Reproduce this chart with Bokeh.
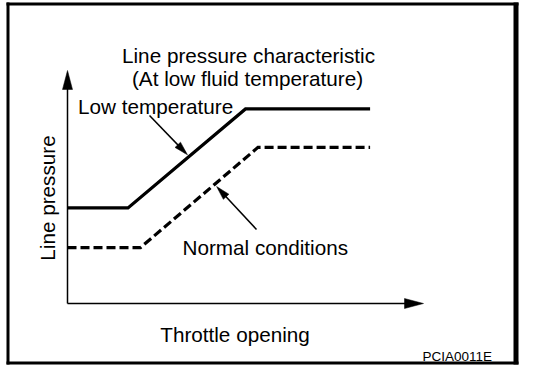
import math
import numpy as np
from bokeh.plotting import figure
from bokeh.models import Range1d, Label
from bokeh.embed import file_html
from bokeh.resources import INLINE

# ---------------- data ----------------
throttle_low = [0, 17, 50, 85]          # "Low temperature" curve
pressure_low = [41, 41, 83.5, 83.5]
throttle_normal = [0, 20.5, 53.5, 85]   # "Normal conditions" curve
pressure_normal = [24, 24, 67, 67]
axis_max = 100

title_lines = ["Line pressure characteristic", "(At low fluid temperature)"]
label_low = "Low temperature"
label_normal = "Normal conditions"
x_label = "Throttle opening"
y_label = "Line pressure"
code_label = "PCIA0011E"
pointer_low_at = 33.7      # throttle value where the "Low temperature" pointer touches
pointer_normal_at = 41.6   # throttle value where the "Normal conditions" pointer touches

# ---------------- layout ----------------
W, H = 536, 366
OX, OY = 67, 303     # axis origin in canvas pixels (from top-left)
TX, TY = 423, 70     # axis arrow tips
SX = (TX - OX) / axis_max
SY = (OY - TY) / axis_max
FONT = "Liberation Sans"
FS = "20.7px"


def fx(px):
    return (px - OX) / SX


def fy(py):
    return (OY - py) / SY


def cx(v):
    return OX + v * SX


def cy(v):
    return OY - v * SY


p = figure(width=W, height=H,
           x_range=Range1d(fx(0), fx(W)), y_range=Range1d(fy(H), fy(0)),
           output_backend="svg", toolbar_location=None,
           x_axis_location=None, y_axis_location=None, min_border=0)
p.outline_line_color = None
p.grid.visible = False
p.background_fill_color = "white"
p.border_fill_color = "white"


def head(tip, frm, length, half):
    tx, ty = tip
    dx, dy = tx - frm[0], ty - frm[1]
    n = math.hypot(dx, dy)
    ux, uy = dx / n, dy / n
    bx, by = tx - ux * length, ty - uy * length
    nx, ny = -uy, ux
    pts = [(tx, ty), (bx + nx * half, by + ny * half), (bx - nx * half, by - ny * half)]
    return [fx(a) for a, _ in pts], [fy(b) for _, b in pts]


# outer frame (decorative border, thicker on the right)
bars = [(6, 518, 2, 5), (6, 9, 2, 364), (513, 518, 2, 364), (6, 518, 361, 364)]
p.quad(left=[fx(b[0]) for b in bars], right=[fx(b[1]) for b in bars],
       top=[fy(b[2]) for b in bars], bottom=[fy(b[3]) for b in bars],
       fill_color="black", line_color=None)

# axes with arrow heads
AH_L, AH_W = 19, 5
p.line([0, fx(TX - AH_L + 1)], [0, 0], line_color="black", line_width=1.5)
p.line([0, 0], [0, fy(TY + AH_L - 1)], line_color="black", line_width=1.5)
hx, hy = head((cx(axis_max), cy(0)), (cx(0), cy(0)), AH_L, AH_W)
p.patch(hx, hy, fill_color="black", line_color="black", line_width=0.5)
hx, hy = head((cx(0), cy(axis_max)), (cx(0), cy(0)), AH_L, AH_W)
p.patch(hx, hy, fill_color="black", line_color="black", line_width=0.5)

# curves
p.line(throttle_low, pressure_low, line_color="black", line_width=3.2, line_join="miter")
p.line(throttle_normal, pressure_normal, line_color="black", line_width=3.2,
       line_dash="9 4", line_join="miter")


# pointers
def pointer(start, t, xs, ys, off):
    tip = (cx(t) + off[0], cy(float(np.interp(t, xs, ys))) + off[1])
    p.line([fx(start[0]), fx(tip[0] - (tip[0] - start[0]) * 0.05)],
           [fy(start[1]), fy(tip[1] - (tip[1] - start[1]) * 0.05)],
           line_color="black", line_width=1.5)
    hx, hy = head(tip, start, 14, 3.8)
    p.patch(hx, hy, fill_color="black", line_color="black", line_width=0.5)


pointer((149, 115), pointer_low_at, throttle_low, pressure_low, (0, -3))
pointer((256, 229), pointer_normal_at, throttle_normal, pressure_normal, (1, 3))


def label(text, px, py, align="left", size=FS, angle=0.0):
    p.add_layout(Label(x=fx(px), y=fy(py), text=text, text_font=FONT,
                       text_font_size=size, text_align=align,
                       text_baseline="alphabetic", text_color="black", angle=angle))


label(title_lines[0], 248, 54.5, "center")
label(title_lines[1], 247, 77.5, "center")
label(label_low, 77.5, 106)
label(label_normal, 182, 247)
label(x_label, 234.5, 334, "center")
label(y_label, 47, 197.5, "center", angle=math.pi / 2)
label(code_label, 422, 356, "left", size="13.5px")

open("out.html", "w").write(file_html(p, INLINE))
